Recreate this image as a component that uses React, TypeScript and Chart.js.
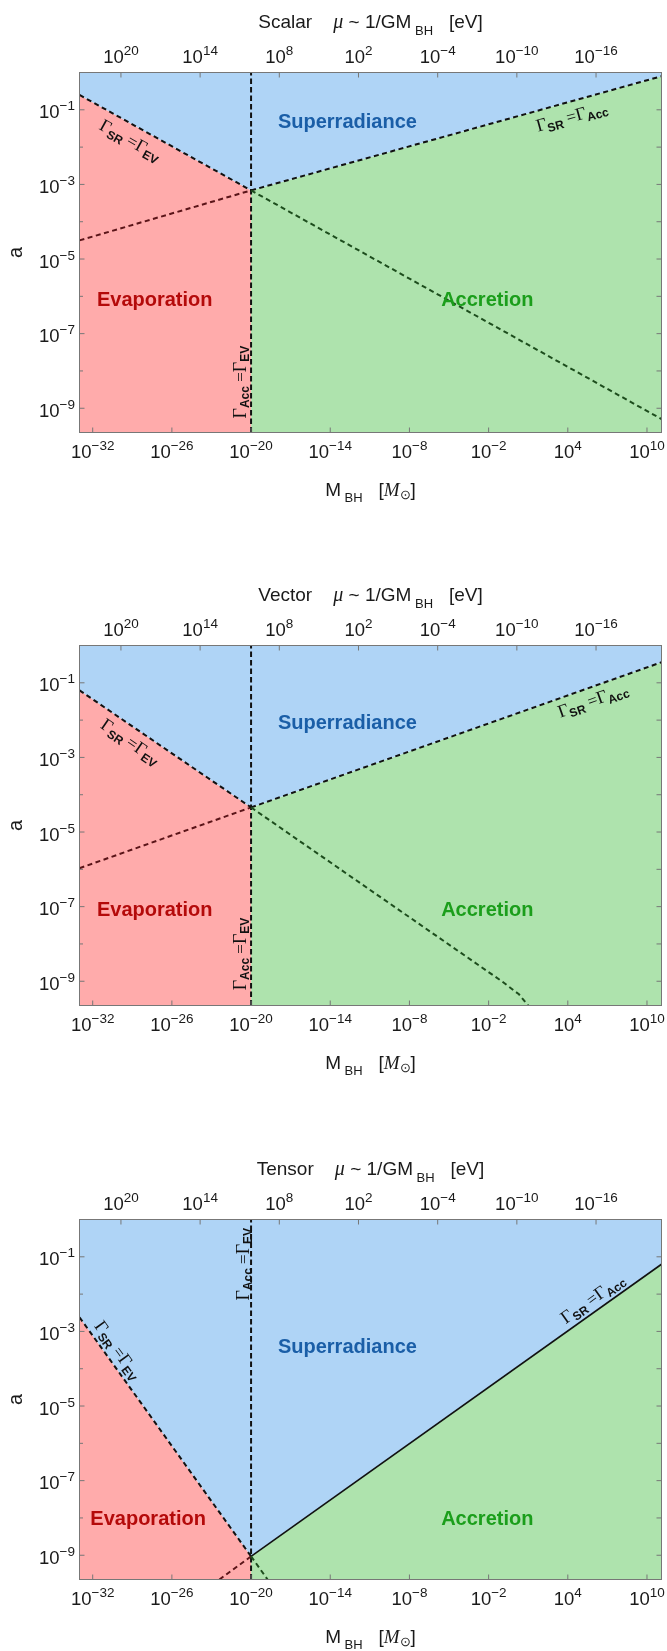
import React, { useEffect, useRef } from "react";
import { Chart, registerables } from "chart.js";

Chart.register(...registerables);

// Every coordinate is a base-10 exponent:
//   x = log10(M_BH / M_sun),  y = log10(a)
const massMin = -33;
const massMax = 11.1;
const spinMin = -9.65;
const spinMax = 0;

const massTickExps = [-32, -26, -20, -14, -8, -2, 4, 10];
const spinLabelExps = [-9, -7, -5, -3, -1];
const spinTickExps = [-9, -8, -7, -6, -5, -4, -3, -2, -1];
const muTickExps = [20, 14, 8, 2, -4, -10, -16];
// mu ~ 1/(G M_BH):  log10(mu / eV) = muMassOffset - log10(M_BH / M_sun)
const muMassOffset = -9.86;

// Gamma_Acc = Gamma_EV threshold mass
const accEvMass = -20;

// Scalar
const scalarSrEvMass = [-33, -20, 11.1];
const scalarSrEvSpin = [-0.6, -3.16, -9.29];
const scalarSrAccMass = [-33, -20, 11.1];
const scalarSrAccSpin = [-4.5, -3.16, -0.1];

// Vector
const vectorSrEvMass = [-33, -20, -1, 0.3, 1.0];
const vectorSrEvSpin = [-1.2, -4.34, -9.0, -9.35, -9.65];
const vectorSrAccMass = [-33, -20, 11.1];
const vectorSrAccSpin = [-5.97, -4.34, -0.45];

// Tensor
const tensorSrEvMass = [-33, -20, -18.75];
const tensorSrEvSpin = [-2.62, -9.03, -9.65];
const tensorSrAccMass = [-22.4, -20, 11.1];
const tensorSrAccSpin = [-9.65, -9.03, -1.2];

// Annotation anchors, in the same exponent coordinates
const superradianceAt = [[-12.7, -1.3], [-12.7, -2.05], [-12.7, -3.4]];
const evaporationAt = [[-27.3, -6.06], [-27.3, -7.07], [-27.8, -8.0]];
const accretionAt = [[-2.1, -6.06], [-2.1, -7.07], [-2.1, -8.0]];
const srEvLabelAt = [[-29.15, -1.82], [-29.15, -2.58], [-30.1, -3.5]];
const srAccLabelAt = [[4.3, -1.18], [5.9, -1.47], [5.87, -2.12]];
const accEvLabelAt = [[-20.83, -8.3], [-20.83, -8.27], [-20.6, -1.2]];

const panelNames = ["Scalar", "Vector", "Tensor"];
const panelSrEv = [
  [scalarSrEvMass, scalarSrEvSpin],
  [vectorSrEvMass, vectorSrEvSpin],
  [tensorSrEvMass, tensorSrEvSpin],
];
const panelSrAcc = [
  [scalarSrAccMass, scalarSrAccSpin],
  [vectorSrAccMass, vectorSrAccSpin],
  [tensorSrAccMass, tensorSrAccSpin],
];
const panelSolidAcc = [false, false, true];

const canvasHeights = [573, 574, 504];
const PLOT_TOP = 72.5;
const PLOT_H = 360;

const BLUE = "#afd4f6";
const RED = "#ffabab";
const GREEN = "#aee3ad";
const MAROON = "#5a1418";
const DARKGREEN = "#1d4d1d";
const INK = "#111111";
const FRAME = "#777777";

const SANS = '"Liberation Sans", Arial, Helvetica, sans-serif';
const SERIF = '"Liberation Serif", "Times New Roman", serif';

type Pt = { x: number; y: number };
type Seg = { t: string; f: string; dy?: number };

const toPts = (xs: number[], ys: number[]): Pt[] => xs.map((x, i) => ({ x, y: ys[i] }));
const upTo = (p: Pt[]) => p.filter((q) => q.x <= accEvMass);
const from = (p: Pt[]) => p.filter((q) => q.x >= accEvMass);

function richWidth(ctx: CanvasRenderingContext2D, segs: Seg[]) {
  let w = 0;
  for (const s of segs) {
    ctx.font = s.f;
    w += ctx.measureText(s.t).width;
  }
  return w;
}

function drawRich(ctx: CanvasRenderingContext2D, segs: Seg[], x: number, y: number, align: string) {
  const w = richWidth(ctx, segs);
  let cx = align === "center" ? x - w / 2 : align === "right" ? x - w : x;
  ctx.textAlign = "left";
  ctx.textBaseline = "alphabetic";
  for (const s of segs) {
    ctx.font = s.f;
    ctx.fillText(s.t, cx, y + (s.dy || 0));
    cx += ctx.measureText(s.t).width;
  }
}

const expText = (n: number) => (n < 0 ? "\u2212" + Math.abs(n) : String(n));
const powerSegs = (n: number): Seg[] => [
  { t: "10", f: `18.5px ${SANS}` },
  { t: expText(n), f: `13.5px ${SANS}`, dy: -8 },
];
const gammaSegs = (a: string, b: string): Seg[] => [
  { t: "\u0393", f: `18px ${SERIF}` },
  { t: a, f: `bold 12px ${SANS}`, dy: 3.5 },
  { t: " =", f: `17px ${SERIF}` },
  { t: "\u0393", f: `18px ${SERIF}` },
  { t: b, f: `bold 12px ${SANS}`, dy: 3.5 },
];
const titleSegs = (name: string): Seg[] => [
  { t: name + "    ", f: `19px ${SANS}` },
  { t: "\u03bc", f: `italic 20px ${SERIF}` },
  { t: " ~ 1/GM", f: `19px ${SANS}` },
  { t: " BH", f: `13px ${SANS}`, dy: 7 },
  { t: "   [eV]", f: `19px ${SANS}` },
];
const xLabelSegs: Seg[] = [
  { t: "M", f: `19px ${SANS}` },
  { t: " BH", f: `13px ${SANS}`, dy: 6 },
  { t: "   [", f: `19px ${SANS}` },
  { t: "M", f: `italic 19px ${SERIF}` },
  { t: "\u2299", f: `13px ${SANS}`, dy: 3 },
  { t: "]", f: `19px ${SANS}` },
];

function makeDecorations(i: number, srEv: Pt[], srAcc: Pt[]) {
  return {
    id: "decorations" + i,
    afterDraw(chart: any) {
      const { ctx, chartArea: area, scales } = chart;
      const X = (v: number) => scales.x.getPixelForValue(v);
      const Y = (v: number) => scales.y.getPixelForValue(v);
      ctx.save();

      // frame and inward ticks
      ctx.strokeStyle = FRAME;
      ctx.lineWidth = 1;
      ctx.setLineDash([]);
      ctx.strokeRect(area.left, area.top, area.right - area.left, area.bottom - area.top);
      ctx.beginPath();
      for (const e of spinTickExps) {
        const y = Y(e);
        const len = e % 2 ? 5 : 3.5;
        ctx.moveTo(area.left, y);
        ctx.lineTo(area.left + len, y);
        ctx.moveTo(area.right, y);
        ctx.lineTo(area.right - 5, y);
      }
      for (const e of massTickExps) {
        const x = X(e);
        ctx.moveTo(x, area.bottom);
        ctx.lineTo(x, area.bottom - 5);
      }
      for (const e of muTickExps) {
        const x = X(muMassOffset - e);
        ctx.moveTo(x, area.top);
        ctx.lineTo(x, area.top + 5);
      }
      ctx.stroke();

      // tick labels
      ctx.fillStyle = "#1a1a1a";
      for (const e of spinLabelExps) drawRich(ctx, powerSegs(e), area.left - 4.5, Y(e) + 8.5, "right");
      for (const e of massTickExps) drawRich(ctx, powerSegs(e), X(e), area.bottom + 25, "center");
      for (const e of muTickExps) drawRich(ctx, powerSegs(e), X(muMassOffset - e), area.top - 9.5, "center");

      // titles
      const cx = (area.left + area.right) / 2;
      drawRich(ctx, titleSegs(panelNames[i]), cx, area.top - 45, "center");
      drawRich(ctx, xLabelSegs, cx, area.bottom + 63, "center");
      ctx.save();
      ctx.translate(21.7, (area.top + area.bottom) / 2);
      ctx.rotate(-Math.PI / 2);
      ctx.font = `20px ${SANS}`;
      ctx.textAlign = "center";
      ctx.textBaseline = "alphabetic";
      ctx.fillText("a", 0, 0);
      ctx.restore();

      // region names
      ctx.font = `bold 20px ${SANS}`;
      ctx.textAlign = "center";
      ctx.textBaseline = "alphabetic";
      const region = (txt: string, at: number[], color: string) => {
        ctx.fillStyle = color;
        ctx.fillText(txt, X(at[0]), Y(at[1]) + 7);
      };
      region("Superradiance", superradianceAt[i], "#1a5ea7");
      region("Evaporation", evaporationAt[i], "#b40a0a");
      region("Accretion", accretionAt[i], "#1b9e1b");

      // rate-equality labels along the boundaries
      ctx.fillStyle = INK;
      const along = (segs: Seg[], at: number[], angle: number) => {
        ctx.save();
        ctx.translate(X(at[0]), Y(at[1]));
        ctx.rotate(angle);
        drawRich(ctx, segs, 0, 5.5, "center");
        ctx.restore();
      };
      const slopeAngle = (p: Pt[]) => {
        const a = p[0];
        const b = p[p.length - 1];
        return Math.atan2(Y(b.y) - Y(a.y), X(b.x) - X(a.x));
      };
      along(gammaSegs("SR", "EV"), srEvLabelAt[i], slopeAngle(upTo(srEv)));
      along(gammaSegs("SR", "Acc"), srAccLabelAt[i], slopeAngle(from(srAcc)));
      along(gammaSegs("Acc", "EV"), accEvLabelAt[i], -Math.PI / 2);

      ctx.restore();
    },
  };
}

function Panel({ index }: { index: number }) {
  const ref = useRef<HTMLCanvasElement>(null);
  const height = canvasHeights[index];

  useEffect(() => {
    const canvas = ref.current;
    if (!canvas) return;
    const srEv = toPts(panelSrEv[index][0], panelSrEv[index][1]);
    const srAcc = toPts(panelSrAcc[index][0], panelSrAcc[index][1]);
    const envelope = [...upTo(srEv), ...from(srAcc).slice(1)];
    const solid = panelSolidAcc[index];
    const dash = [5, 3.5];

    const area = (data: Pt[], fill: string, color: string) => ({
      data,
      fill,
      backgroundColor: color,
      borderColor: "transparent",
      borderWidth: 0,
      pointRadius: 0,
    });
    const line = (data: Pt[], color: string, width: number, borderDash: number[]) => ({
      data,
      fill: false,
      borderColor: color,
      borderWidth: width,
      borderDash,
      borderCapStyle: "butt",
      pointRadius: 0,
    });

    const chart = new Chart(canvas, {
      type: "line",
      data: {
        datasets: [
          area(envelope, "end", BLUE),
          area(upTo(srEv), "start", RED),
          area(from(srAcc), "start", GREEN),
          line(upTo(srEv), INK, 2, dash),
          line(from(srEv), DARKGREEN, 2, dash),
          line(upTo(srAcc), MAROON, 2, dash),
          line(from(srAcc), INK, solid ? 1.6 : 2, solid ? [] : dash),
          line(
            [
              { x: accEvMass, y: spinMin },
              { x: accEvMass, y: spinMax },
            ],
            INK,
            2,
            [5.5, 3]
          ),
        ] as any,
      },
      options: {
        animation: false,
        responsive: false,
        devicePixelRatio: 1,
        events: [],
        layout: {
          padding: { left: 79.5, right: 5.5, top: PLOT_TOP, bottom: height - PLOT_TOP - PLOT_H },
        },
        elements: { line: { tension: 0 }, point: { radius: 0 } },
        scales: {
          x: { type: "linear", min: massMin, max: massMax, display: false },
          y: { type: "linear", min: spinMin, max: spinMax, display: false },
        },
        plugins: {
          legend: { display: false },
          tooltip: { enabled: false },
          filler: { drawTime: "beforeDatasetsDraw" },
        } as any,
      },
      plugins: [makeDecorations(index, srEv, srAcc)],
    });
    return () => chart.destroy();
  }, [index, height]);

  return <canvas ref={ref} width={667} height={height} style={{ display: "block", width: 667, height }} />;
}

export default function App() {
  return (
    <div style={{ position: "absolute", left: 0, top: 0, width: 667, height: 1651, background: "#ffffff" }}>
      {panelNames.map((_, i) => (
        <Panel key={i} index={i} />
      ))}
    </div>
  );
}
